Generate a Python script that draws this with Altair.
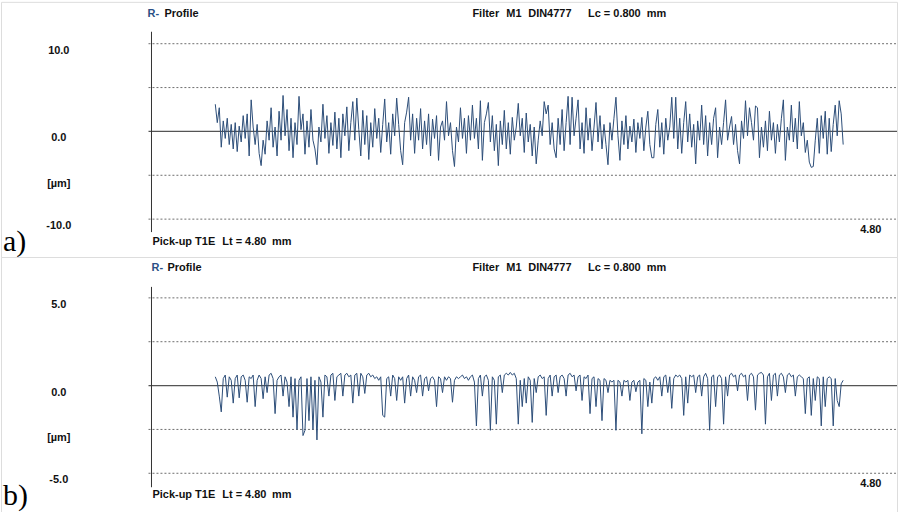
import altair as alt
import pandas as pd

# ---------------------------------------------------------------------------
# Roughness profiles R (filter M1 DIN4777, Lc = 0.800 mm, Lt = 4.80 mm)
# heights in micrometres, sampled evenly along the traversing length
# ---------------------------------------------------------------------------
LT_MM = 4.80

profile_a = [
    3.1, 1.0, 2.7, -1.8, 1.2, -0.8, 1.5, -1.5, 0.8, -2.0,
    1.0, -2.3, 0.6, -1.2, 1.8, -0.8, 2.0, -2.8, 3.6, 0.5,
    -1.5, 0.8, -2.5, -3.9, -1.0, -2.6, 1.2, -1.0, 2.7, -1.8,
    0.5, -2.8, 2.3, -1.0, 4.1, -0.5, 2.5, -2.2, 1.5, -3.0,
    1.0, -1.5, 4.0, 0.2, 2.0, -2.6, 1.2, -1.8, 2.5, -1.0,
    -2.0, -3.8, 0.5, -1.2, 3.1, -0.8, 1.8, -2.5, 1.0, -1.6,
    2.2, -2.0, 1.5, -3.0, 2.0, -0.5, 2.8, -2.2, 1.0, 3.4,
    -1.0, 3.8, 0.2, -2.8, 2.4, -1.5, 1.8, -3.2, 1.0, -1.8,
    2.6, -0.8, 1.5, -2.4, 0.8, 3.7, -1.2, 1.0, -2.6, 2.0,
    -0.5, 3.8, 0.8, -2.2, -3.8, 1.0, 2.2, 3.9, -1.0, 2.0,
    -2.5, 1.5, -1.0, 2.6, -2.0, 1.2, -1.5, 2.0, -2.8, 1.4,
    -0.8, 1.8, -3.3, 0.5, 1.2, -1.0, 3.4, -0.5, 1.0, -2.2,
    -4.0, 0.5, -1.2, 2.7, -0.8, 1.5, -2.5, 1.8, -1.0, 3.0,
    -0.8, 1.5, -2.0, 3.5, -3.3, 1.0, 2.0, 3.3, -1.2, 1.8,
    -2.2, 0.8, -3.9, 1.2, -1.5, 2.4, -2.0, 1.0, -2.6, 1.6,
    -1.0, 0.5, 3.2, -0.5, 1.5, -2.4, 2.1, -1.2, 0.8, -2.8,
    0.5, -3.7, -1.0, 1.2, -0.5, 3.4, 2.0, 3.0, -1.5, 1.0,
    -2.0, -3.0, 1.5, -1.5, 2.5, -2.2, 1.0, 4.0, -1.5, 3.9,
    -0.5, 1.5, 3.6, -2.0, 1.0, -2.5, 2.7, -1.0, 1.5, -2.2,
    0.5, 3.3, -1.2, 1.8, -2.0, 0.8, -1.5, -3.8, 1.0, -1.0,
    1.5, 3.9, -0.5, -3.3, 1.2, -1.5, 1.8, -2.0, 0.6, -1.2,
    1.4, -2.4, 1.0, -0.8, 1.6, -2.2, 0.5, 2.3, -1.5, -3.0,
    -3.0, 0.8, 2.5, -1.8, 1.0, -2.6, 1.5, -1.0, 0.5, 3.9,
    -0.8, 3.9, -2.0, 1.5, -2.5, 1.0, 3.4, -1.2, 2.0, -1.8,
    0.8, -3.7, 1.2, -1.0, 3.0, -1.5, 1.8, -2.8, 1.0, -1.5,
    1.5, 2.7, -3.0, 0.5, -1.5, 1.0, 3.6, -1.0, 0.5, 1.7,
    -1.5, 0.8, -2.2, -3.7, 1.2, -0.8, 3.5, -0.5, 2.7, 1.0,
    -1.0, 2.9, 2.7, -3.0, 0.5, -1.8, 1.2, -2.2, 2.3, -1.0,
    1.0, -2.5, 0.8, -1.2, 1.5, 3.6, -3.3, 0.5, -1.0, 3.0,
    -1.2, 1.5, -2.0, 3.4, -0.5, 1.0, -2.4, -1.0, -3.5, -4.1,
    -4.0, -1.0, 1.5, -2.5, 1.8, -0.8, 2.3, -2.6, 1.5, -2.3,
    0.8, 3.0, -0.5, 3.5, 2.0, -1.5,
]

profile_b = [
    0.5, 0.2, -0.6, -1.5, 0.4, 0.6, -0.66, 0.5, 0.3, -1.0,
    0.4, 0.6, -0.7, 0.5, 0.6, 0.3, -0.95, 0.5, 0.4, 0.6,
    -1.2, 0.3, 0.6, 0.4, -0.75, 0.5, -0.4, 0.6, 0.7, 0.4,
    -1.6, 0.3, 0.5, 0.6, -0.6, 0.5, 0.2, -1.2, 0.5, -1.8,
    0.4, -2.5, 0.3, 0.5, -2.85, -2.55, 0.4, -2.0, 0.5, -2.5,
    0.3, -3.1, 0.5, 0.2, -1.8, 0.6, 0.5, -0.6, 0.6, 0.7,
    -0.85, 0.5, 0.6, 0.7, -0.6, 0.6, 0.7, 0.5, 0.6, -1.0,
    0.6, 0.7, -0.6, 0.7, 0.5, -0.45, 0.6, 0.7, 0.5, 0.6,
    0.4, 0.5, 0.3, 0.5, -1.7, -1.8, 0.4, 0.5, -0.6, 0.6,
    0.4, -0.85, 0.5, 0.3, 0.5, -1.0, 0.4, 0.6, -0.6, 0.5,
    0.3, -0.4, 0.5, 0.6, -0.6, 0.4, 0.5, -0.3, 0.4, 0.5,
    0.3, -1.2, 0.5, 0.4, -0.4, 0.5, 0.3, 0.5, 0.4, -0.95,
    0.3, 0.5, 0.4, 0.5, 0.6, 0.4, 0.5, 0.3, 0.5, 0.6,
    0.2, -2.3, 0.4, 0.6, -0.6, 0.5, 0.6, 0.3, -2.55, 0.5,
    0.3, -2.2, 0.5, 0.6, -0.4, 0.6, 0.7, 0.6, 0.75, 0.6,
    0.7, 0.4, -2.2, 0.3, -1.2, 0.4, -1.0, 0.5, 0.3, -2.1,
    0.4, -0.4, 0.5, 0.6, 0.4, 0.5, -1.7, 0.4, 0.6, -0.6,
    0.5, 0.6, -0.4, 0.5, 0.6, 0.4, -0.6, 0.6, 0.7, 0.5,
    0.6, -0.3, 0.5, 0.6, -0.85, 0.5, 0.4, 0.6, -1.6, 0.4,
    0.5, -1.2, 0.4, 0.3, -2.0, 0.4, 0.3, -0.4, 0.3, 0.2,
    0.3, -2.55, 0.3, 0.2, -0.6, 0.3, 0.2, 0.3, -0.85, 0.2,
    0.3, -0.35, 0.2, 0.3, -2.75, 0.4, 0.3, -1.2, 0.2, -1.0,
    0.4, 0.5, 0.3, 0.5, -0.6, 0.5, 0.6, -0.4, 0.5, -1.3,
    0.4, 0.6, 0.5, 0.6, 0.4, -1.7, 0.5, -1.0, 0.6, 0.5,
    0.6, -0.4, 0.5, 0.6, -0.6, 0.5, 0.7, 0.4, -2.55, 0.5,
    0.6, -1.2, 0.5, 0.6, 0.4, -2.2, 0.5, -0.6, 0.6, 0.7,
    0.5, 0.6, -0.3, 0.6, 0.7, 0.5, 0.6, -0.85, 0.6, 0.7,
    0.5, -1.4, 0.6, 0.7, 0.75, 0.6, -2.2, 0.5, 0.7, -0.85,
    0.6, 0.7, -0.6, 0.6, 0.7, 0.5, -0.4, 0.6, 0.7, 0.5,
    0.6, -0.6, 0.5, 0.6, 0.5, 0.4, -1.6, 0.4, 0.5, -1.7,
    0.4, -0.85, 0.5, 0.4, -2.3, 0.5, -1.2, 0.4, 0.5, 0.4,
    -2.3, 0.4, -0.85, -1.2, 0.1, 0.3,
]

# dotted reference lines and left-hand scale labels, µm
grid_a = [10.0, 5.0, -5.0, -10.0]
ticks_a = [10.0, 0.0, -10.0]
tick_labels_a = ["10.0", "0.0", "-10.0"]

grid_b = [5.0, 2.5, -2.5, -5.0]
ticks_b = [5.0, 0.0, -5.0]
tick_labels_b = ["5.0", "0.0", "-5.0"]

# ---------------------------------------------------------------------------
# layout (pixels)
# ---------------------------------------------------------------------------
W, H = 899, 256
X0_PX, X1_PX = 215.0, 845.0          # start / end of the trace
PX_PER_MM = (X1_PX - X0_PX) / LT_MM
FONT = "Liberation Sans"
FS = 11
LINE_COLOR = "#2c4d78"
BLUE = "#2a5085"


def trace_frame(values):
    step = LT_MM / (len(values) - 1)
    return pd.DataFrame({"x": [i * step for i in range(len(values))], "z": values})


def label(text, x, y, size=FS, color="#111111", align="left",
          baseline="middle", font=FONT, weight="bold"):
    return (
        alt.Chart(pd.DataFrame({"t": [text]}))
        .mark_text(font=font, fontSize=size, fontWeight=weight, color=color,
                   align=align, baseline=baseline)
        .encode(text="t:N", x=alt.value(x), y=alt.value(y))
    )


def panel(values, grid, ticks, tick_labels, zero_px, px_per_um,
          tag, tag_y, head_y, foot_y, rx, profile_x):
    ys = alt.Scale(domain=[-(H - zero_px) / px_per_um, zero_px / px_per_um],
                   nice=False, zero=False)
    xs = alt.Scale(domain=[-X0_PX / PX_PER_MM, (W - X0_PX) / PX_PER_MM],
                   nice=False, zero=False)

    grid_rules = (
        alt.Chart(pd.DataFrame({"v": grid}))
        .mark_rule(color="#6e6e6e", strokeWidth=1, strokeDash=[2, 2])
        .encode(y=alt.Y("v:Q", scale=ys, axis=None),
                x=alt.value(148), x2=alt.value(W))
    )
    zero_rule = (
        alt.Chart(pd.DataFrame({"v": [0.0]}))
        .mark_rule(color="#555555", strokeWidth=1.2)
        .encode(y=alt.Y("v:Q", scale=ys, axis=None),
                x=alt.value(148), x2=alt.value(W))
    )
    y_axis = (
        alt.Chart(pd.DataFrame({"v": [0]}))
        .mark_rule(color="#333333", strokeWidth=1)
        .encode(x=alt.value(151), y=alt.value(30), y2=alt.value(231))
    )
    trace = (
        alt.Chart(trace_frame(values))
        .mark_line(color=LINE_COLOR, strokeWidth=1)
        .encode(x=alt.X("x:Q", scale=xs, axis=None),
                y=alt.Y("z:Q", scale=ys, axis=None))
    )
    tick_text = (
        alt.Chart(pd.DataFrame({"v": ticks, "lab": tick_labels}))
        .mark_text(font=FONT, fontSize=FS, fontWeight="bold", color="#111111",
                   align="center", baseline="top", dy=1)
        .encode(y=alt.Y("v:Q", scale=ys, axis=None),
                x=alt.value(58), text="lab:N")
    )

    layers = [
        grid_rules, zero_rule, y_axis, trace, tick_text,
        label("[µm]", 58, zero_px + 53, align="center"),
        label("R-", rx, head_y, color=BLUE),
        label("Profile", profile_x, head_y),
        label("Filter", 473, head_y),
        label("M1", 507, head_y),
        label("DIN4777", 529, head_y),
        label("Lc = 0.800", 589, head_y),
        label("mm", 648, head_y),
        label("Pick-up T1E", 152, foot_y),
        label("Lt = 4.80", 222, foot_y),
        label("mm", 272, foot_y),
        label("4.80", 862, zero_px + 99),
        label(tag, 2, tag_y, size=30, font="Liberation Serif",
              weight="normal", baseline="alphabetic", color="#000000"),
    ]
    return alt.layer(*layers).properties(width=W, height=H)


panel_a = panel(profile_a, grid_a, ticks_a, tick_labels_a,
                zero_px=130.0, px_per_um=8.8, tag="a)", tag_y=250,
                head_y=12.5, foot_y=240.5, rx=147, profile_x=164)
panel_b = panel(profile_b, grid_b, ticks_b, tick_labels_b,
                zero_px=129.0, px_per_um=17.6, tag="b)", tag_y=249,
                head_y=10.7, foot_y=239.0, rx=151, profile_x=167)

chart = (
    alt.vconcat(panel_a, panel_b, spacing=0)
    .properties(padding=0, bounds="flush")
    .configure_view(stroke=None)
    .configure(background="white")
)

chart.save("out.html", embed_options={"renderer": "svg", "actions": False})
